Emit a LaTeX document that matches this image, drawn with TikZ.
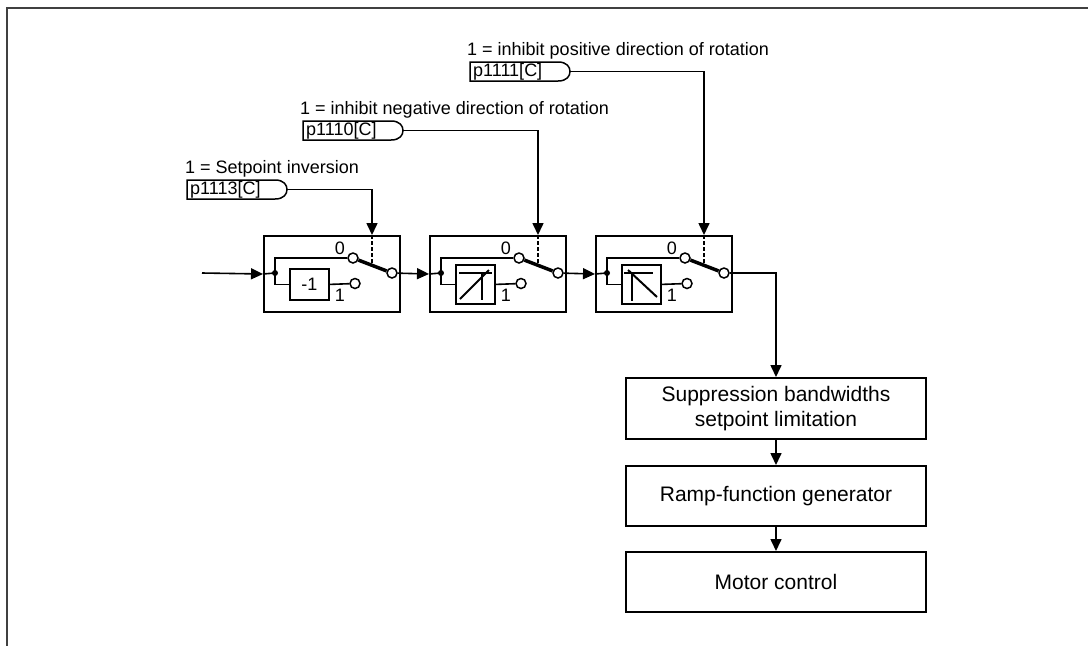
\documentclass[tikz,border=0pt]{standalone}
\usepackage{fontspec}
\setmainfont{Liberation Sans}
\usetikzlibrary{arrows.meta}
\tikzset{
  wire/.style={line width=1.6pt},
  arr/.style={wire,-{Triangle[length=12pt,width=11pt]}},
  blk/.style={draw, line width=2pt, minimum width=136pt, minimum height=76pt, anchor=north west, inner sep=0pt},
  inbox/.style={draw, line width=1.8pt, inner sep=0pt, anchor=north west, minimum width=39pt, font=\fontsize{18}{21}\selectfont},
  fbox/.style={draw, line width=2pt, minimum width=300pt, inner sep=0pt, align=center, font=\fontsize{21}{25}\selectfont},
  contact/.style={circle, draw, fill=white, line width=1.5pt, minimum size=10pt, inner sep=0pt},
  lbl/.style={font=\fontsize{18}{21}\selectfont, inner sep=0pt, anchor=base west},
  swl/.style={font=\fontsize{18}{21}\selectfont, inner sep=0pt, anchor=base},
  blade/.style={line width=3.5pt},
  sel/.style={wire, dash pattern=on 3.5pt off 2.5pt},
  pshape/.style={draw, line width=1.5pt},
  frame/.style={draw=black!75, line width=1.6pt},
}
% #1 name, #2 left x, #3 inner box top, #4 inner box height, #5 inner content, #6 symbol code
\newcommand\swblk[6]{%
  \begin{scope}[shift={(#2,0)}]
    \node[blk] (#1) at (0,235) {};
    \coordinate (#1in) at (12,273);
    \coordinate (#1sel) at (109,235);
    \node[contact] (#1c0) at (90,258) {};
    \node[contact] (#1c1) at (92,283.5) {};
    \node[contact] (#1o) at (129,273) {};
    \node[inbox, minimum height=#4pt] (#1inner) at (26,#3) {#5};
    \fill (#1in) circle (3pt);
    \draw[wire] (#1in) |- (#1c0);
    \draw[wire] (#1in) |- (#1inner.west);
    \draw[wire] (#1inner.east) -- (#1c1);
    \draw[blade] (#1c0) -- (#1o);
    \draw[sel] (#1sel) -- ++(0,29);
    \node[swl] (#1l0) at (77,254) {0};
    \node[swl] (#1l1) at (77,301) {1};
    #6
  \end{scope}}
% #1 name, #2 left x, #3 top y, #4 text
\newcommand\pbox[4]{%
  \draw[pshape] (#2,#3) -- (#2+88,#3) .. controls (#2+97,#3) and (#2+100,#3+5) .. (#2+100,#3+9.5)
     .. controls (#2+100,#3+14) and (#2+97,#3+19) .. (#2+88,#3+19) -- (#2,#3+19) -- cycle;
  \node[lbl, anchor=west] (#1t) at (#2+3,#3+10) {#4};
  \coordinate (#1) at (#2+100,#3+9.5);}
\begin{document}
\begin{tikzpicture}[x=1pt,y=-1pt]
  \useasboundingbox (0,0) rectangle (1088,646);
  \draw[frame] (1088,8) -- (7,8) -- (7,646);

  % switch blocks
  \swblk{b1}{263}{268}{31}{-1}{}
  \swblk{b2}{429}{264}{39}{}{%
    \draw[wire] (30,273) -- (63,273);
    \draw[wire] (53,273) -- (53,300);
    \draw[line width=2pt] (31,299) -- (60,270);}
  \swblk{b3}{595}{264}{39}{}{%
    \draw[wire] (29,273) -- (58,273);
    \draw[wire] (37,273) -- (37,301);
    \draw[line width=2pt] (33,270) -- (62,297);}

  % parameter inputs
  \node[lbl] (t1) at (185,173) {1 = Setpoint inversion};
  \pbox{p1}{187}{180}{p1113[C]}
  \node[lbl] (t2) at (300,114) {1 = inhibit negative direction of rotation};
  \pbox{p2}{303}{121}{p1110[C]}
  \node[lbl] (t3) at (467,55) {1 = inhibit positive direction of rotation};
  \pbox{p3}{470}{62}{p1111[C]}

  \draw[arr] (p1) -| (b1sel);
  \draw[arr] (p2) -| (b2sel);
  \draw[arr] (p3) -| (b3sel);

  % signal path
  \coordinate (src) at (202,273);
  \draw[arr] (src) -- (b1.west);
  \draw[wire] (b1.west) -- (b1in);
  \draw[arr] (b1o) -- (b2.west);
  \draw[wire] (b2.west) -- (b2in);
  \draw[arr] (b2o) -- (b3.west);
  \draw[wire] (b3.west) -- (b3in);

  % function boxes
  \node[fbox, minimum height=61pt] (sup) at (776,408.5) {Suppression bandwidths\\setpoint limitation};
  \node[fbox, minimum height=60pt] (ramp) at (776,496) {Ramp-function generator};
  \node[fbox, minimum height=60pt] (mot) at (776,582) {Motor control};

  \draw[arr] (b3o) -| (sup.north);
  \draw[arr] (sup) -- (ramp);
  \draw[arr] (ramp) -- (mot);
\end{tikzpicture}
\end{document}
